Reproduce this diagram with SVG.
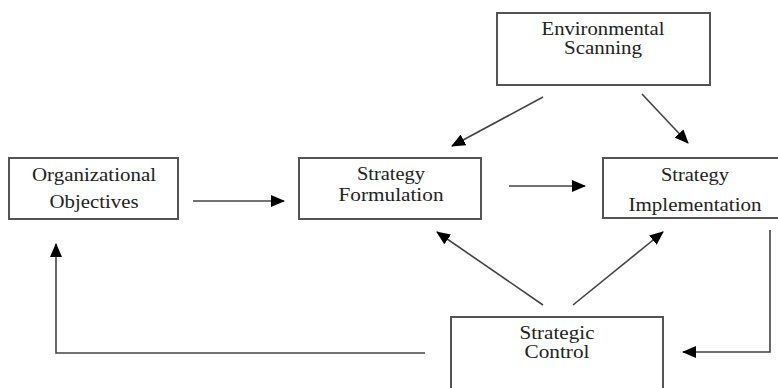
<svg xmlns="http://www.w3.org/2000/svg" width="778" height="388" viewBox="0 0 778 388">
<style>
.box{fill:#fff;stroke:#555;stroke-width:2}
.t{font-family:"Liberation Serif","Times New Roman",serif;font-size:18px;fill:#222;text-anchor:middle}
.c{fill:none;stroke:#444;stroke-width:1.6}
</style>
<defs>
<marker id="ah" markerUnits="userSpaceOnUse" markerWidth="14" markerHeight="12" refX="13" refY="6" orient="auto">
<path d="M0,0 L14,6 L0,12 Z" fill="#000"/>
</marker>
</defs>
<rect width="778" height="388" fill="#fff"/>
<g id="env">
<rect class="box" x="497" y="13" width="213" height="72"/>
<text class="t" x="603" y="35" textLength="123" lengthAdjust="spacingAndGlyphs">Environmental</text>
<text class="t" x="603" y="54" textLength="78" lengthAdjust="spacingAndGlyphs">Scanning</text>
</g>
<g id="orgobj">
<rect class="box" x="9" y="158" width="169" height="61"/>
<text class="t" x="94" y="181" textLength="124" lengthAdjust="spacingAndGlyphs">Organizational</text>
<text class="t" x="94" y="208" textLength="89" lengthAdjust="spacingAndGlyphs">Objectives</text>
</g>
<g id="formulation">
<rect class="box" x="299" y="158" width="182" height="61"/>
<text class="t" x="391" y="180" textLength="68" lengthAdjust="spacingAndGlyphs">Strategy</text>
<text class="t" x="391" y="201" textLength="105" lengthAdjust="spacingAndGlyphs">Formulation</text>
</g>
<g id="implementation">
<rect class="box" x="603" y="158" width="180" height="60"/>
<text class="t" x="695" y="181" textLength="68" lengthAdjust="spacingAndGlyphs">Strategy</text>
<text class="t" x="695" y="211" textLength="133" lengthAdjust="spacingAndGlyphs">Implementation</text>
</g>
<g id="control">
<rect class="box" x="451" y="317" width="212" height="80"/>
<text class="t" x="557" y="339" textLength="75" lengthAdjust="spacingAndGlyphs">Strategic</text>
<text class="t" x="557" y="358" textLength="65" lengthAdjust="spacingAndGlyphs">Control</text>
</g>
<g id="connectors">
<line class="c" x1="193" y1="201" x2="284" y2="201" marker-end="url(#ah)"/>
<line class="c" x1="509" y1="186" x2="585" y2="186" marker-end="url(#ah)"/>
<line class="c" x1="543" y1="97" x2="452" y2="146" marker-end="url(#ah)"/>
<line class="c" x1="642" y1="94" x2="688" y2="143" marker-end="url(#ah)"/>
<line class="c" x1="543" y1="305" x2="437" y2="232" marker-end="url(#ah)"/>
<line class="c" x1="573" y1="305" x2="663" y2="232" marker-end="url(#ah)"/>
<polyline class="c" points="425,353 56,353 56,244" marker-end="url(#ah)"/>
<polyline class="c" points="770,230 770,352 683,352" marker-end="url(#ah)"/>
</g>
</svg>
